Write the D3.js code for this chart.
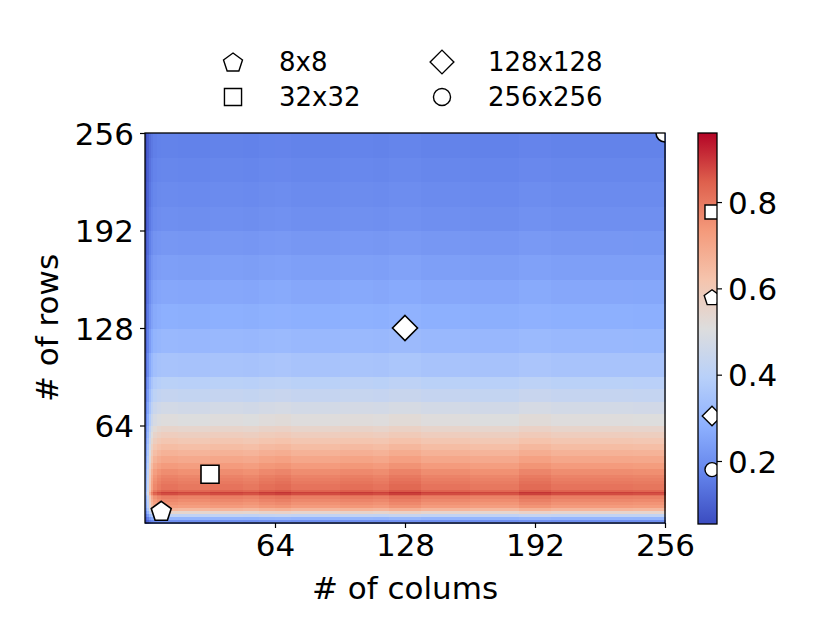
<!DOCTYPE html>
<html>
<head>
<meta charset="utf-8">
<script src="https://cdn.jsdelivr.net/npm/d3@7"></script>
<style>
  body { margin: 0; background: #fff; }
  text { font-family: "DejaVu Sans", sans-serif; fill: #000; }
</style>
</head>
<body>
<svg id="chart" width="830" height="639"></svg>
<script>
/* DATA */
// row bands (lower edges, last one is the top) and the score read for each band
const rowBreaks = [0, 2, 4, 6, 8, 10, 12, 14, 16, 18, 19, 20, 21, 22, 24, 26, 28, 30, 32, 36, 40, 44, 48, 52, 56, 60, 64,
  72, 80, 88, 96, 112, 128, 144, 160, 176, 192, 208, 224, 240, 256];
const rowValues = [0.2, 0.3, 0.42, 0.55, 0.66, 0.73, 0.75, 0.77, 0.79, 0.82, 0.88, 0.9, 0.84, 0.81, 0.81, 0.8, 0.79, 0.78,
  0.76, 0.73, 0.7, 0.67, 0.64, 0.61, 0.58, 0.55, 0.51, 0.47, 0.43, 0.4, 0.35, 0.31, 0.28, 0.26, 0.24, 0.22, 0.2, 0.19, 0.18, 0.17];
// column bands and how much each one scales the row score
const colBreaks = [0, 1, 2, 3, 4, 6, 8, 16, 32, 48, 56, 64, 72, 96, 112, 120, 136, 160, 184, 200, 240, 256];
const colFactors = [0.35, 0.55, 0.75, 0.88, 0.95, 0.98, 1.0, 0.99, 1.0, 0.99, 1.01, 1.02, 1.0, 1.01, 1.0, 1.025, 1.0, 0.99, 1.02, 1.0, 0.995];

const axisTicks = [64, 128, 192, 256];
const cbarTicks = [0.2, 0.4, 0.6, 0.8];

const markerNames = ["8x8", "32x32", "128x128", "256x256"];
const markerSizes = [8, 32, 128, 256];
const markerShapes = ["pentagon", "square", "diamond", "circle"];
const markerScores = [0.58, 0.777, 0.304, 0.18];

const vmin = 0.054, vmax = 0.96;
// coolwarm
const cmapStops = ["#3b4cc0", "#6282ea", "#8db0fe", "#b8d0f9", "#dddddd", "#f5c4ad", "#f49a7b", "#de604d", "#b40426"];

/* LAYOUT */
const plot = { left: 145, right: 665, top: 133, bottom: 523 };
const cbar = { left: 698, right: 717, top: 133, bottom: 524 };
const fontSize = 31;

const svg = d3.select("#chart");

const xScale = d3.scaleLinear().domain([0, 256]).range([plot.left, plot.right]);
const yScale = d3.scaleLinear().domain([0, 256]).range([plot.bottom, plot.top]);
const cmap = d3.scaleLinear()
  .domain(cmapStops.map((d, i) => i / (cmapStops.length - 1)))
  .range(cmapStops)
  .interpolate(d3.interpolateLab)
  .clamp(true);
const color = v => cmap((v - vmin) / (vmax - vmin));

// marker shapes
function shapePath(shape, k) {
  if (shape === "square") { const s = 9 * k; return `M${-s},${-s}H${s}V${s}H${-s}Z`; }
  if (shape === "diamond") { const s = 12.5 * k; return `M0,${-s}L${s},0L0,${s}L${-s},0Z`; }
  if (shape === "circle") { const r = 9 * k; return `M${r},0A${r},${r} 0 1,1 ${-r},0A${r},${r} 0 1,1 ${r},0Z`; }
  const r = 10.5 * k;
  const pts = d3.range(5).map(i => {
    const a = -Math.PI / 2 + i * 2 * Math.PI / 5;
    return [r * Math.cos(a), r * Math.sin(a) + 1];
  });
  return d3.line()(pts) + "Z";
}

const defs = svg.append("defs");
defs.append("clipPath").attr("id", "plotClip")
  .append("rect")
  .attr("x", plot.left).attr("y", plot.top)
  .attr("width", plot.right - plot.left).attr("height", plot.bottom - plot.top);
defs.append("clipPath").attr("id", "cbarClip")
  .append("rect")
  .attr("x", cbar.left).attr("y", cbar.top)
  .attr("width", cbar.right - cbar.left).attr("height", cbar.bottom - cbar.top);

// HEATMAP CELLS
const cells = [];
rowValues.forEach((rv, i) => {
  colFactors.forEach((cf, j) => {
    cells.push({ r0: rowBreaks[i], r1: rowBreaks[i + 1], c0: colBreaks[j], c1: colBreaks[j + 1], v: rv * cf });
  });
});

svg.append("g")
  .attr("shape-rendering", "crispEdges")
  .selectAll("rect")
  .data(cells)
  .join("rect")
  .attr("x", d => xScale(d.c0))
  .attr("y", d => yScale(d.r1))
  .attr("width", d => xScale(d.c1) - xScale(d.c0) + 0.5)
  .attr("height", d => yScale(d.r0) - yScale(d.r1) + 0.5)
  .attr("fill", d => color(d.v));

// markers on the map
svg.append("g")
  .attr("clip-path", "url(#plotClip)")
  .selectAll("path")
  .data(markerSizes)
  .join("path")
  .attr("d", (d, i) => shapePath(markerShapes[i], 1))
  .attr("transform", d => `translate(${xScale(d)},${yScale(d)})`)
  .attr("fill", "#fff")
  .attr("stroke", "#000")
  .attr("stroke-width", 1.6);

// frame
svg.append("rect")
  .attr("x", plot.left).attr("y", plot.top)
  .attr("width", plot.right - plot.left).attr("height", plot.bottom - plot.top)
  .attr("fill", "none").attr("stroke", "#000").attr("stroke-width", 1.3);

// AXES
const xAxis = svg.append("g")
  .attr("transform", `translate(0,${plot.bottom})`)
  .call(d3.axisBottom(xScale).tickValues(axisTicks).tickSize(5).tickPadding(6));
const yAxis = svg.append("g")
  .attr("transform", `translate(${plot.left},0)`)
  .call(d3.axisLeft(yScale).tickValues(axisTicks).tickSize(5).tickPadding(6));
[xAxis, yAxis].forEach(g => {
  g.select(".domain").remove();
  g.selectAll(".tick line").attr("stroke", "#000").attr("stroke-width", 1.2);
  g.selectAll(".tick text").attr("font-size", fontSize).attr("font-family", "DejaVu Sans").attr("fill", "#000");
});
yAxis.selectAll(".tick text").attr("dy", "0.36em");

svg.append("text")
  .attr("x", (plot.left + plot.right) / 2)
  .attr("y", 599)
  .attr("text-anchor", "middle")
  .attr("font-size", fontSize)
  .text("# of colums");

svg.append("text")
  .attr("transform", `translate(47,${(plot.top + plot.bottom) / 2}) rotate(-90)`)
  .attr("text-anchor", "middle")
  .attr("dy", "0.36em")
  .attr("font-size", fontSize)
  .text("# of rows");

// COLORBAR
const cbarScale = d3.scaleLinear().domain([vmin, vmax]).range([cbar.bottom, cbar.top]);
const grad = defs.append("linearGradient")
  .attr("id", "cbarGrad")
  .attr("x1", 0).attr("y1", 1).attr("x2", 0).attr("y2", 0);
grad.selectAll("stop")
  .data(cmapStops)
  .join("stop")
  .attr("offset", (d, i) => i / (cmapStops.length - 1))
  .attr("stop-color", d => d);

svg.append("rect")
  .attr("x", cbar.left).attr("y", cbar.top)
  .attr("width", cbar.right - cbar.left).attr("height", cbar.bottom - cbar.top)
  .attr("fill", "url(#cbarGrad)");

svg.append("g")
  .attr("clip-path", "url(#cbarClip)")
  .selectAll("path")
  .data(markerScores)
  .join("path")
  .attr("d", (d, i) => shapePath(markerShapes[i], 0.78))
  .attr("transform", d => `translate(712,${cbarScale(d)})`)
  .attr("fill", "#fff")
  .attr("stroke", "#000")
  .attr("stroke-width", 1.4);

svg.append("rect")
  .attr("x", cbar.left).attr("y", cbar.top)
  .attr("width", cbar.right - cbar.left).attr("height", cbar.bottom - cbar.top)
  .attr("fill", "none").attr("stroke", "#000").attr("stroke-width", 1.3);

const cAxis = svg.append("g")
  .attr("transform", `translate(${cbar.right},0)`)
  .call(d3.axisRight(cbarScale).tickValues(cbarTicks).tickFormat(d3.format(".1f")).tickSize(5).tickPadding(6));
cAxis.select(".domain").remove();
cAxis.selectAll(".tick line").attr("stroke", "#000").attr("stroke-width", 1.2);
cAxis.selectAll(".tick text").attr("font-size", fontSize).attr("font-family", "DejaVu Sans").attr("fill", "#000").attr("dy", "0.36em");

// LEGEND (two columns, filled column-wise)
const legend = svg.append("g");
const legendItems = legend.selectAll("g")
  .data(markerNames)
  .join("g")
  .attr("transform", (d, i) => `translate(${i < 2 ? 233 : 442},${i % 2 === 0 ? 62 : 97})`);
legendItems.append("path")
  .attr("d", (d, i) => shapePath(markerShapes[i], 0.95))
  .attr("fill", "#fff")
  .attr("stroke", "#000")
  .attr("stroke-width", 1.4);
legendItems.append("text")
  .attr("x", 46)
  .attr("dy", "0.36em")
  .attr("font-size", 26)
  .text(d => d);
</script>
</body>
</html>
